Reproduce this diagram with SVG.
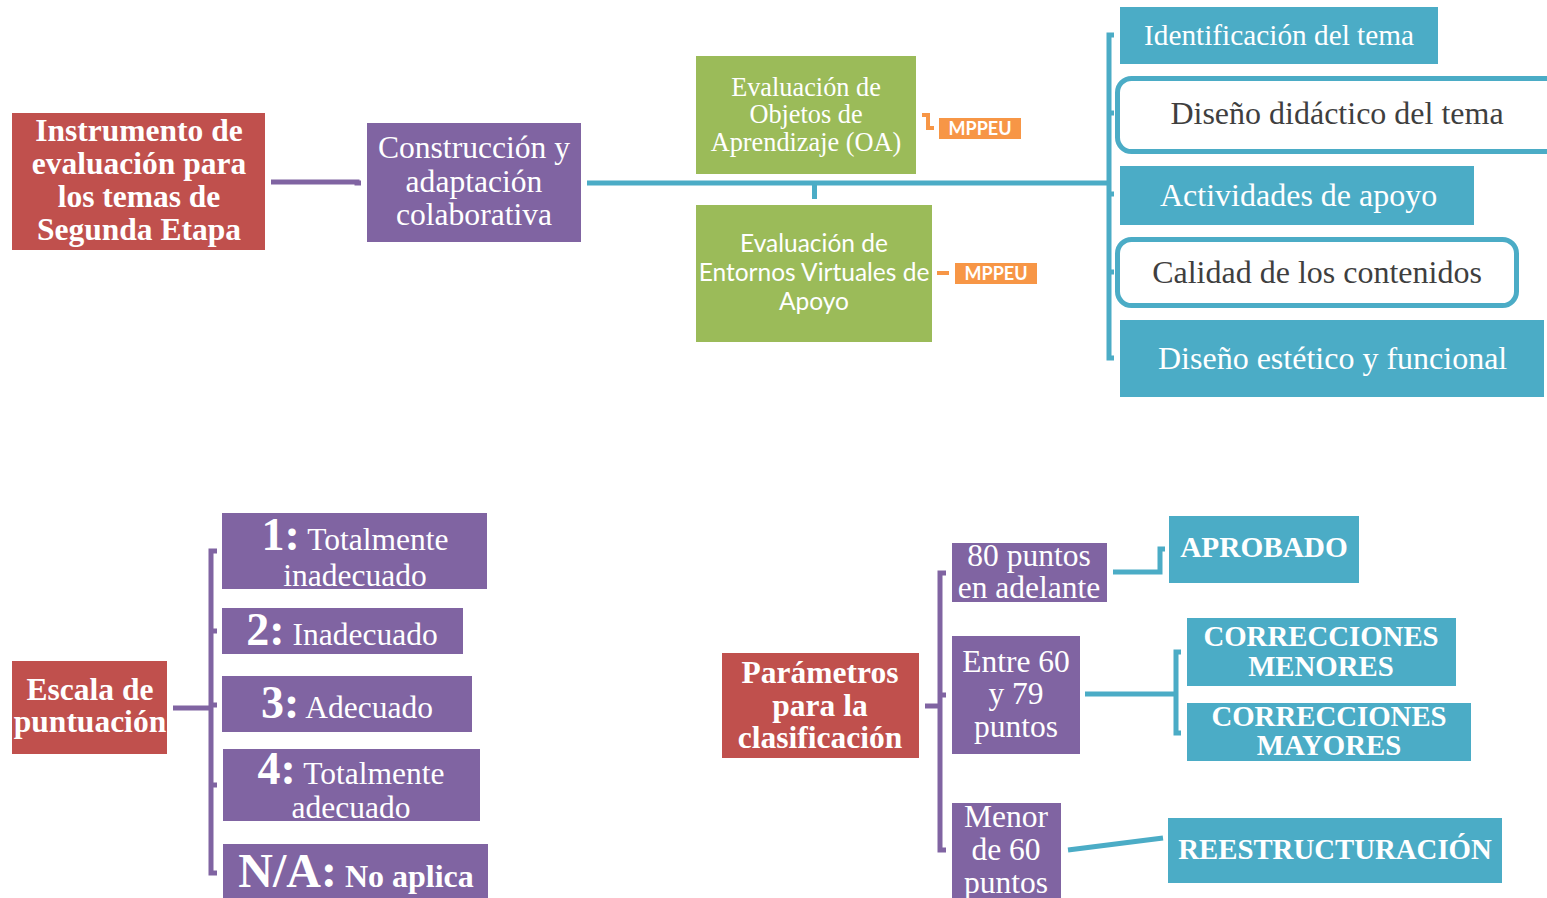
<svg xmlns="http://www.w3.org/2000/svg" width="1547" height="898" viewBox="0 0 1547 898">
<style>
.red{fill:#C0504D}
.pur{fill:#8064A2}
.grn{fill:#9BBB59}
.blu{fill:#4BACC6}
.org{fill:#F79646}
.wbox{fill:#FFFFFF;stroke:#4BACC6;stroke-width:5}
.serif{font-family:"Liberation Serif","Times New Roman",serif}
.sans{font-family:Lato,"Liberation Sans",sans-serif}
.w{fill:#FFFFFF}
.dk{fill:#3F3F3F}
.b{font-weight:bold}
.c{text-anchor:middle}
.lp{stroke:#8064A2;stroke-width:5;fill:none}
.lb{stroke:#4BACC6;stroke-width:5;fill:none}
.lo{stroke:#F79646;stroke-width:4;fill:none}
</style>
<rect width="1547" height="898" fill="#FFFFFF"/>

<g id="connectors">
  <path class="lp" d="M271 182 H357 V183 H361"/>
  <path class="lb" d="M587 183 H1109"/>
  <path class="lb" d="M814.5 183 V199"/>
  <path class="lo" d="M922 115 H928 V128 H934"/>
  <path class="lo" d="M937 273 H949"/>
  <path class="lb" d="M1114 35 H1109 V358 H1114 M1109 113 H1114 M1109 194 H1114 M1109 272 H1114"/>
  <path class="lp" d="M173 708 H211"/>
  <path class="lp" d="M217 551 H211 V873 H217 M211 631 H217 M211 705 H217 M211 785 H217"/>
  <path class="lp" d="M925 706 H940"/>
  <path class="lp" d="M946 573 H940 V850 H946 M940 695 H946"/>
  <path class="lb" d="M1113 572 H1160 V549 H1165"/>
  <path class="lb" d="M1085 694 H1176"/>
  <path class="lb" d="M1181 652 H1176 V733 H1181"/>
  <path class="lb" d="M1068 850 L1163 838"/>
</g>

<g id="instrumento">
  <rect class="red" x="12" y="113" width="253" height="137"/>
  <text class="serif b w c" font-size="31.5"><tspan x="139" y="141">Instrumento de</tspan><tspan x="139" y="174">evaluación para</tspan><tspan x="139" y="207">los temas de</tspan><tspan x="139" y="240">Segunda Etapa</tspan></text>
</g>

<g id="construccion">
  <rect class="pur" x="367" y="123" width="214" height="119"/>
  <text class="serif w c" font-size="31.6"><tspan x="474" y="158">Construcción y</tspan><tspan x="474" y="192">adaptación</tspan><tspan x="474" y="225">colaborativa</tspan></text>
</g>

<g id="eval-oa">
  <rect class="grn" x="696" y="56" width="220" height="118"/>
  <text class="serif w c" font-size="26.3"><tspan x="806" y="96">Evaluación de</tspan><tspan x="806" y="123">Objetos de</tspan><tspan x="806" y="151">Aprendizaje (OA)</tspan></text>
</g>

<g id="eval-ev">
  <rect class="grn" x="696" y="205" width="236" height="137"/>
  <text class="sans w c" font-size="24.5"><tspan x="814" y="252">Evaluación de</tspan><tspan x="814" y="281">Entornos Virtuales de</tspan><tspan x="814" y="310">Apoyo</tspan></text>
</g>

<g id="mppeu1">
  <rect class="org" x="939" y="118" width="82" height="21"/>
  <text class="sans b w c" x="980" y="135" font-size="18">MPPEU</text>
</g>

<g id="mppeu2">
  <rect class="org" x="955" y="263" width="82" height="21"/>
  <text class="sans b w c" x="996" y="280" font-size="18">MPPEU</text>
</g>

<g id="identificacion">
  <rect class="blu" x="1120" y="7" width="318" height="57"/>
  <text class="serif w" x="1144" y="45" font-size="29.3">Identificación del tema</text>
</g>

<g id="diseno-didactico">
  <rect class="wbox" x="1117.5" y="78.5" width="480" height="73" rx="14"/>
  <text class="serif dk c" x="1337" y="124" font-size="32">Diseño didáctico del tema</text>
</g>

<g id="actividades">
  <rect class="blu" x="1120" y="166" width="354" height="59"/>
  <text class="serif w" x="1160" y="206" font-size="32">Actividades de apoyo</text>
</g>

<g id="calidad">
  <rect class="wbox" x="1117.5" y="239.5" width="399" height="66" rx="14"/>
  <text class="serif dk c" x="1317" y="283" font-size="32">Calidad de los contenidos</text>
</g>

<g id="diseno-estetico">
  <rect class="blu" x="1120" y="320" width="424" height="77"/>
  <text class="serif w" x="1158" y="369" font-size="32">Diseño estético y funcional</text>
</g>

<g id="escala">
  <rect class="red" x="12" y="661" width="155" height="93"/>
  <text class="serif b w c" font-size="31.5"><tspan x="90" y="700">Escala de</tspan><tspan x="90" y="732">puntuación</tspan></text>
</g>

<g id="esc1">
  <rect class="pur" x="222" y="513" width="265" height="76"/>
  <text class="serif w c" font-size="31.5"><tspan x="355" y="550"><tspan class="b" font-size="46">1:</tspan> Totalmente</tspan><tspan x="355" y="586">inadecuado</tspan></text>
</g>

<g id="esc2">
  <rect class="pur" x="222" y="608" width="241" height="46"/>
  <text class="serif w c" x="342" y="645" font-size="31.5"><tspan class="b" font-size="46">2:</tspan> Inadecuado</text>
</g>

<g id="esc3">
  <rect class="pur" x="222" y="676" width="250" height="56"/>
  <text class="serif w c" x="347" y="718" font-size="31.5"><tspan class="b" font-size="46">3:</tspan> Adecuado</text>
</g>

<g id="esc4">
  <rect class="pur" x="223" y="749" width="257" height="72"/>
  <text class="serif w c" font-size="31.5"><tspan x="351" y="784"><tspan class="b" font-size="46">4:</tspan> Totalmente</tspan><tspan x="351" y="818">adecuado</tspan></text>
</g>

<g id="esc5">
  <rect class="pur" x="223" y="844" width="265" height="54"/>
  <text class="serif b w c" x="356" y="887" font-size="32"><tspan font-size="48">N/A:</tspan> No aplica</text>
</g>

<g id="parametros">
  <rect class="red" x="722" y="653" width="197" height="105"/>
  <text class="serif b w c" font-size="31.5"><tspan x="820" y="683">Parámetros</tspan><tspan x="820" y="716">para la</tspan><tspan x="820" y="748">clasificación</tspan></text>
</g>

<g id="p80">
  <rect class="pur" x="952" y="543" width="155" height="59"/>
  <text class="serif w c" font-size="31.5"><tspan x="1029" y="566">80 puntos</tspan><tspan x="1029" y="598">en adelante</tspan></text>
</g>

<g id="p60">
  <rect class="pur" x="952" y="636" width="128" height="118"/>
  <text class="serif w c" font-size="31.5"><tspan x="1016" y="672">Entre 60</tspan><tspan x="1016" y="704">y 79</tspan><tspan x="1016" y="737">puntos</tspan></text>
</g>

<g id="pmenor">
  <rect class="pur" x="952" y="803" width="109" height="95"/>
  <text class="serif w c" font-size="31.5"><tspan x="1006" y="827">Menor</tspan><tspan x="1006" y="860">de 60</tspan><tspan x="1006" y="893">puntos</tspan></text>
</g>

<g id="aprobado">
  <rect class="blu" x="1169" y="516" width="190" height="67"/>
  <text class="serif b w c" x="1264" y="557" font-size="29.3">APROBADO</text>
</g>

<g id="menores">
  <rect class="blu" x="1187" y="618" width="269" height="68"/>
  <text class="serif b w c" font-size="28.8"><tspan x="1321" y="646">CORRECCIONES</tspan><tspan x="1321" y="676">MENORES</tspan></text>
</g>

<g id="mayores">
  <rect class="blu" x="1187" y="703" width="284" height="58"/>
  <text class="serif b w c" font-size="28.8"><tspan x="1329" y="726">CORRECCIONES</tspan><tspan x="1329" y="755">MAYORES</tspan></text>
</g>

<g id="reestructuracion">
  <rect class="blu" x="1168" y="818" width="334" height="65"/>
  <text class="serif b w c" x="1335" y="859" font-size="28.8">REESTRUCTURACIÓN</text>
</g>
</svg>
